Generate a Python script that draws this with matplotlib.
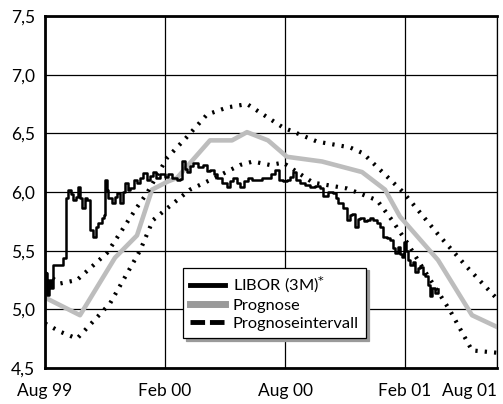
import matplotlib.pyplot as plt

plt.rcParams["font.family"] = ["Lato", "DejaVu Sans"]

# months since Aug 1999
libor_m = [0.0, 0.05, 0.1, 0.2, 0.3, 0.4, 0.85, 0.9, 1.0, 1.05, 1.15, 1.3, 1.4, 1.55,
           1.65, 1.75, 1.85, 2.0, 2.1, 2.25, 2.4, 2.55, 2.65, 2.85, 2.95, 3.0, 3.1,
           3.15, 3.35, 3.5, 3.6, 3.75, 3.9, 4.0, 4.15, 4.25, 4.45, 4.6, 4.75, 4.9,
           5.1, 5.25, 5.4, 5.55, 5.75, 6.0, 6.15, 6.35, 6.6, 6.75, 6.85, 7.0, 7.1,
           7.25, 7.4, 7.65, 7.9, 8.1, 8.25, 8.45, 8.6, 8.85, 9.1, 9.25, 9.4, 9.6,
           9.75, 9.95, 10.15, 10.35, 10.6, 10.85, 11.1, 11.3, 11.5, 11.7, 11.9,
           12.1, 12.25, 12.4, 12.55, 12.75, 13.0, 13.25, 13.5, 13.75, 13.9, 14.15,
           14.4, 14.55, 14.65, 14.9, 15.1, 15.25, 15.35, 15.5, 15.65, 15.75, 15.95,
           16.1, 16.25, 16.4, 16.6, 16.75, 16.9, 17.1, 17.25, 17.4, 17.5, 17.65,
           17.75, 17.85, 17.95, 18.05, 18.15, 18.25, 18.4, 18.5, 18.65, 18.75,
           18.9, 19.0, 19.15, 19.25, 19.35, 19.5, 19.65]
libor_v = [5.14, 5.31, 5.12, 5.25, 5.18, 5.38, 5.38, 5.44, 5.44, 5.95, 6.02, 5.98,
           5.93, 5.96, 6.04, 5.95, 5.86, 5.95, 5.93, 5.68, 5.62, 5.70, 5.74, 5.78,
           5.80, 6.10, 6.02, 5.95, 5.91, 5.96, 5.99, 5.91, 6.00, 6.08, 6.02, 6.03,
           6.10, 6.08, 6.12, 6.16, 6.10, 6.14, 6.17, 6.12, 6.15, 6.13, 6.15, 6.12,
           6.10, 6.11, 6.26, 6.20, 6.17, 6.22, 6.25, 6.21, 6.23, 6.18, 6.19, 6.15,
           6.12, 6.08, 6.04, 6.09, 6.12, 6.08, 6.04, 6.09, 6.12, 6.10, 6.10, 6.12,
           6.12, 6.15, 6.19, 6.10, 6.09, 6.10, 6.13, 6.17, 6.10, 6.08, 6.06, 6.04,
           6.05, 6.03, 5.97, 6.00, 5.99, 5.95, 5.91, 5.86, 5.76, 5.80, 5.81, 5.70,
           5.77, 5.78, 5.75, 5.76, 5.78, 5.76, 5.74, 5.70, 5.62, 5.61, 5.59, 5.52,
           5.48, 5.53, 5.47, 5.45, 5.57, 5.50, 5.42, 5.38, 5.40, 5.32, 5.35, 5.36,
           5.30, 5.28, 5.21, 5.11, 5.18, 5.14, 5.17]

prog_m = [0.0, 1.75, 3.5, 4.6, 5.35, 6.15, 6.6, 8.25, 9.35, 10.1, 11.15, 12.1,
          13.85, 15.85, 17.0, 17.75, 19.65, 21.35, 22.6]
prog_v = [5.10, 4.95, 5.44, 5.63, 6.02, 6.09, 6.12, 6.44, 6.44, 6.51, 6.44, 6.30,
          6.26, 6.17, 6.02, 5.79, 5.42, 4.95, 4.85]

upper_m = [0.0, 0.75, 1.6, 3.1, 4.6, 5.1, 6.1, 7.1, 8.1, 9.1, 10.1, 11.9, 13.6,
           15.25, 15.9, 17.9, 19.6, 21.1, 22.6]
upper_v = [5.31, 5.22, 5.25, 5.48, 5.87, 5.99, 6.29, 6.47, 6.66, 6.72, 6.75, 6.55,
           6.43, 6.38, 6.33, 6.00, 5.65, 5.36, 5.09]

lower_m = [0.0, 0.75, 1.6, 3.25, 4.75, 5.4, 6.1, 7.25, 8.6, 9.75, 10.4, 11.25,
           11.9, 13.4, 15.1, 16.6, 17.35, 18.1, 18.75, 20.25, 21.35, 22.6]
lower_v = [4.88, 4.81, 4.75, 5.05, 5.50, 5.76, 5.86, 6.02, 6.13, 6.23, 6.26, 6.23,
           6.25, 6.08, 6.03, 5.93, 5.76, 5.57, 5.39, 4.99, 4.65, 4.63]

x_ticks = [0, 6, 12, 18, 22.6]
x_labels = ["Aug 99", "Feb 00", "Aug 00", "Feb 01", "Aug 01"]
y_ticks = [4.5, 5.0, 5.5, 6.0, 6.5, 7.0, 7.5]

fig = plt.figure(figsize=(5.03, 4.04), dpi=100)
ax = fig.add_axes([45 / 503, 36 / 404, 452 / 503, 352 / 404])

# interval bounds as short bold dashes
dots = (0, (0.55, 1.7))
ax.plot(upper_m, upper_v, color="black", lw=3.0, linestyle=dots,
        dash_capstyle="butt", zorder=3)
ax.plot(lower_m, lower_v, color="black", lw=3.0, linestyle=dots,
        dash_capstyle="butt", zorder=3)
ax.plot(prog_m, prog_v, color="#bdbdbd", lw=3.3, zorder=2)
ax.plot(libor_m, libor_v, color="black", lw=1.8, drawstyle="steps-post", zorder=4)

ax.set_xlim(0, 22.6)
ax.set_ylim(4.5, 7.5)
ax.set_yticks(y_ticks)
ax.set_yticklabels([f"{v:.1f}".replace(".", ",") for v in y_ticks])
ax.set_xticks(x_ticks)
ax.set_xticklabels(x_labels)
ax.get_xticklabels()[-1].set_horizontalalignment("right")
ax.tick_params(length=0, labelsize=12.5, pad=7)
ax.tick_params(axis="x", pad=11)
ax.grid(True, color="black", lw=0.9)

for s in ["left", "bottom", "top"]:
    ax.spines[s].set_linewidth(2)
ax.spines["right"].set_linewidth(0.9)

h1, = ax.plot([], [], color="black", lw=3.5)
h2, = ax.plot([], [], color="#9a9a9a", lw=5)
h3, = ax.plot([], [], color="black", lw=3.5, linestyle=(0, (3, 1)))
leg = ax.legend([h1, h2, h3], ["LIBOR (3M)$^{*}$", "Prognose", "Prognoseintervall"],
                loc="upper left", bbox_to_anchor=(0.305, 0.285), fontsize=11.8,
                fancybox=False, shadow={"color": "#9a9a9a", "alpha": 1},
                framealpha=1, edgecolor="black", handlelength=2.1,
                handletextpad=0.5, borderpad=0.45, labelspacing=0.2,
                borderaxespad=0)
leg.get_frame().set_linewidth(0.9)

fig.savefig("out.png", dpi=100)
